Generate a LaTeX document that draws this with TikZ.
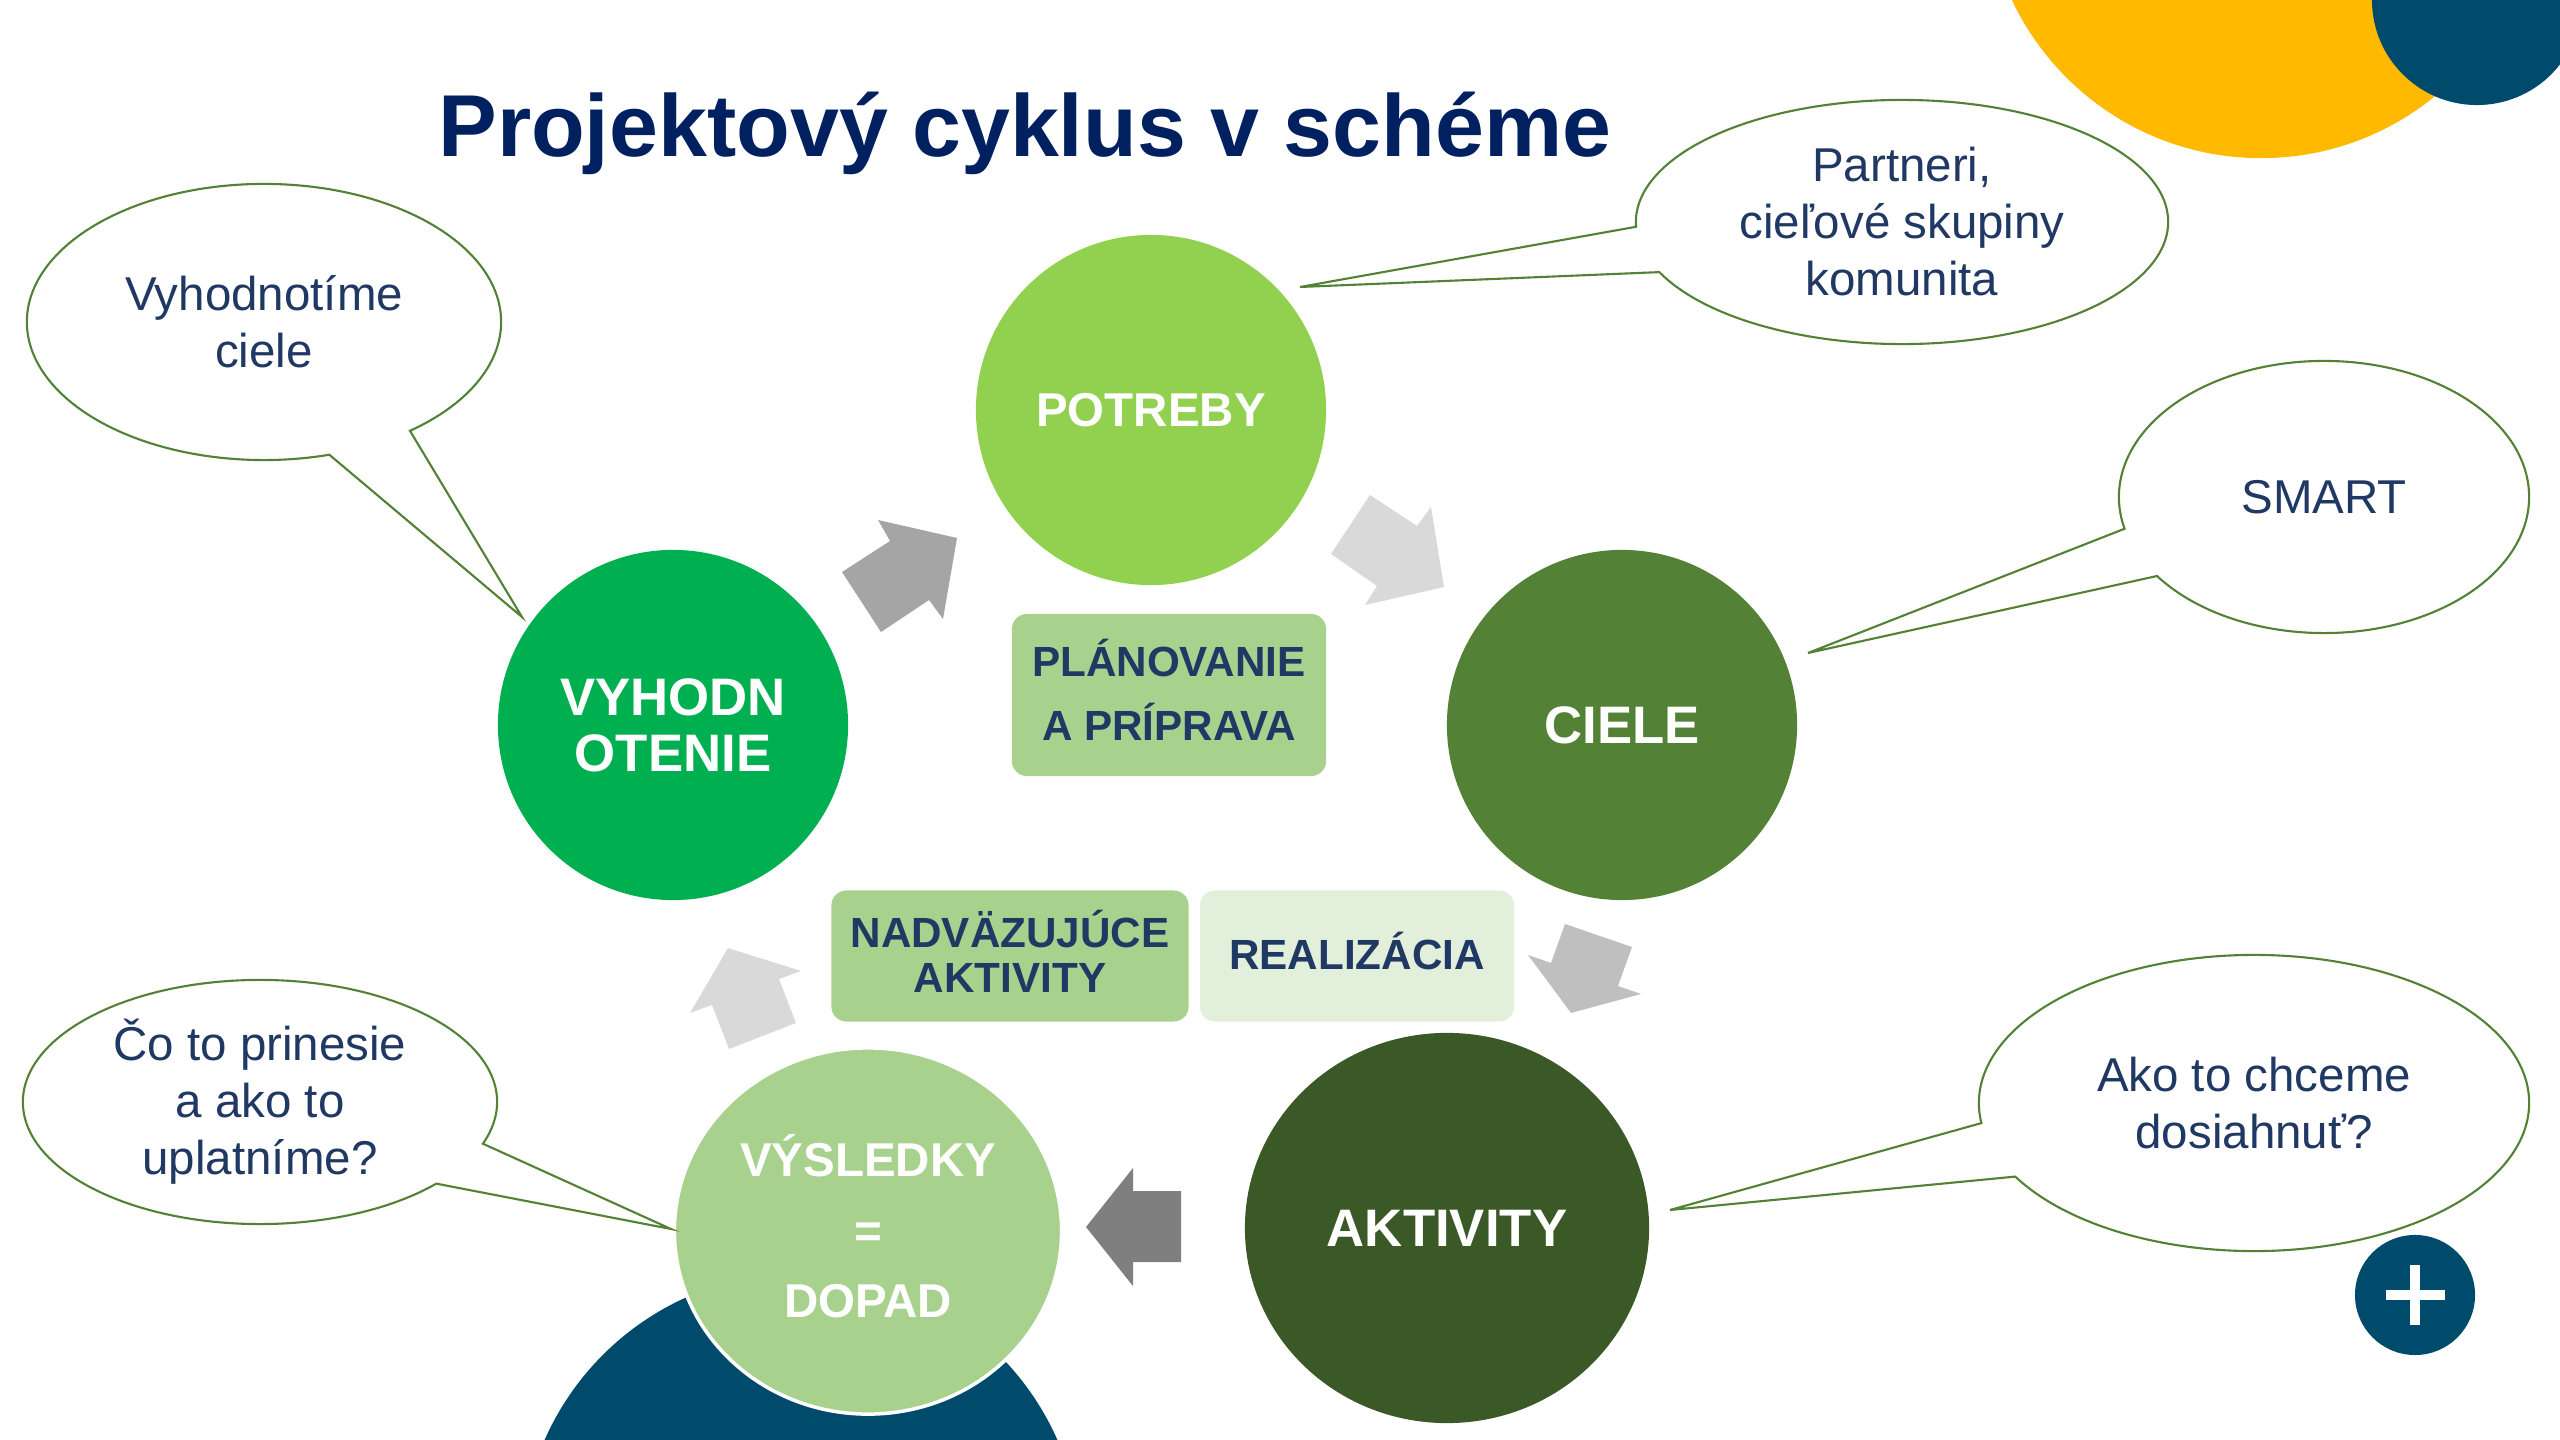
\documentclass[tikz,border=0pt]{standalone}
\usepackage{fontspec}
\setmainfont{Liberation Sans}
\usetikzlibrary{shapes.geometric,shapes.callouts}
\definecolor{title_blue}{HTML}{002060}
\definecolor{text_blue}{HTML}{203864}
\definecolor{potreby_green}{HTML}{92D050}
\definecolor{ciele_green}{HTML}{538135}
\definecolor{vyhod_green}{HTML}{00B050}
\definecolor{aktiv_green}{HTML}{3B5926}
\definecolor{light_green}{HTML}{A9D18E}
\definecolor{pale_green}{HTML}{E2EFDA}
\definecolor{sun_yellow}{HTML}{FFBA00}
\definecolor{deep_teal}{HTML}{004B6B}

\begin{document}
\begin{tikzpicture}[x=0.01cm,y=-0.01cm,
    stage/.style={circle,inner sep=0pt,minimum size=3.5cm,text=white,align=center,font=\bfseries\fontsize{15}{16}\selectfont},
    phase/.style={rectangle,rounded corners=0.15cm,inner sep=0pt,text depth=0.1cm,text=text_blue,align=center,font=\bfseries\fontsize{12}{12.8}\selectfont},
    bubble/.style={ellipse callout,draw=ciele_green,line width=0.6pt,fill=white,inner sep=0pt,callout pointer arc=22,text=text_blue,align=center,font=\fontsize{13.5}{16.2}\selectfont},
    blockarrow/.style={draw=none}]
    \useasboundingbox (0,0) rectangle (2560,1440);
    \clip (0,0) rectangle (2560,1440);
    \fill[sun_yellow] (2261,-117) circle (2.75cm);
    \fill[deep_teal] (2477,0) circle (1.05cm);
    \fill[deep_teal] (801,1553) circle (2.8cm);

    \node[anchor=base west,text=title_blue,font=\bfseries\fontsize{25}{30}\selectfont] (title) at (426,157) {Projektový cyklus v schéme};

    \node[stage,fill=potreby_green,font=\bfseries\fontsize{13.5}{16}\selectfont] (potreby) at (1151,410) {POTREBY};
    \node[stage,fill=ciele_green] (ciele) at (1622,725) {CIELE};
    \node[stage,fill=vyhod_green] (vyhod) at (673,725) {VYHODN\\OTENIE};
    \node[stage,ellipse,minimum width=4.04cm,minimum height=3.9cm,fill=aktiv_green] (aktivity) at (1447,1228) {AKTIVITY};
    \node[stage,ellipse,minimum width=3.87cm,minimum height=3.66cm,fill=light_green,draw=white,line width=1pt,text depth=0.1cm,font=\bfseries\fontsize{13.5}{20}\selectfont] (vysledky) at (868,1231) {VÝSLEDKY\\=\\DOPAD};

    \node[phase,fill=light_green,minimum width=3.14cm,minimum height=1.62cm,font=\bfseries\fontsize{12}{18.2}\selectfont] (planovanie) at (1169,695) {PLÁNOVANIE\\A PRÍPRAVA};
    \node[phase,fill=light_green,minimum width=3.57cm,minimum height=1.31cm] (nadvaz) at (1010,956) {NADVÄZUJÚCE\\AKTIVITY};
    \node[phase,fill=pale_green,minimum width=3.14cm,minimum height=1.31cm] (realiz) at (1357,956) {REALIZÁCIA};

    \fill[blockarrow,fill={rgb,255:red,165;green,165;blue,165}] (878,520) -- (957,538) -- (943,619) -- (929,600) -- (881,632) -- (842,572) -- (890,541) -- cycle;
    \fill[blockarrow,fill={rgb,255:red,217;green,217;blue,217}] (1370,495) -- (1417,526) -- (1431,507) -- (1444,587) -- (1365,605) -- (1377,586) -- (1331,554) -- cycle;
    \fill[blockarrow,fill={rgb,255:red,191;green,191;blue,191}] (1565,924) -- (1632,947) -- (1618,986) -- (1641,994) -- (1571,1013) -- (1528,955) -- (1551,963) -- cycle;
    \fill[blockarrow,fill={rgb,255:red,127;green,127;blue,127}] (1086,1227) -- (1133,1168) -- (1133,1191) -- (1181,1191) -- (1181,1262) -- (1133,1262) -- (1133,1286) -- cycle;
    \fill[blockarrow,fill={rgb,255:red,217;green,217;blue,217}] (728,948) -- (801,971) -- (779,979) -- (796,1023) -- (729,1049) -- (712,1005) -- (690,1013) -- cycle;

    \coordinate (tipV) at (522,617);
    \coordinate (tipP) at (1300,287);
    \coordinate (tipS) at (1808,653);
    \coordinate (tipA) at (1670,1210);
    \coordinate (tipC) at (671,1229);
    \node[bubble,minimum width=4.74cm,minimum height=2.76cm,callout absolute pointer={(tipV)}] (vyhodcall) at (264,322) {Vyhodnotíme\\ciele};
    \node[bubble,minimum width=5.32cm,minimum height=2.44cm,callout absolute pointer={(tipP)}] (potrebycall) at (1902,222) {Partneri,\\cieľové skupiny\\komunita};
    \node[bubble,minimum width=4.1cm,minimum height=2.72cm,callout absolute pointer={(tipS)}] (cielecall) at (2324,497) {SMART};
    \node[bubble,minimum width=5.5cm,minimum height=2.96cm,callout absolute pointer={(tipA)}] (aktivcall) at (2254,1103) {Ako to chceme\\dosiahnuť?};
    \node[bubble,minimum width=4.74cm,minimum height=2.44cm,callout absolute pointer={(tipC)}] (vyslcall) at (260,1102) {Čo to prinesie\\a ako to\\uplatníme?};

    \node[circle,fill=deep_teal,inner sep=0pt,minimum size=1.2cm] (plus) at (2415,1295) {};
    \draw[white,line width=3.1pt] ([xshift=-0.295cm]plus.center) -- ([xshift=0.295cm]plus.center);
    \draw[white,line width=3.1pt] ([yshift=-0.295cm]plus.center) -- ([yshift=0.295cm]plus.center);
  \end{tikzpicture}
\end{document}
